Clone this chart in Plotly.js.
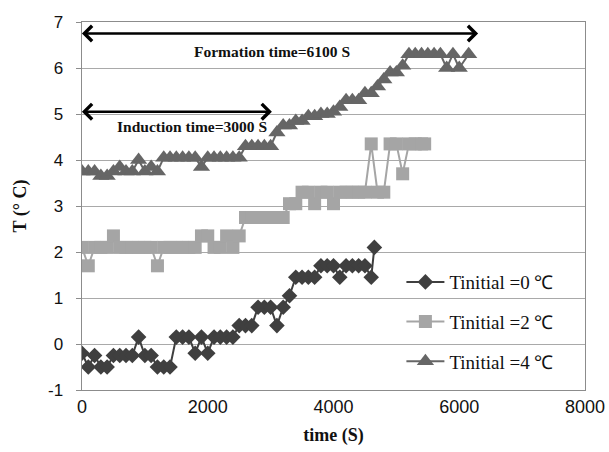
<!DOCTYPE html>
<html>
<head>
<meta charset="utf-8">
<script src="https://cdn.plot.ly/plotly-3.0.1.min.js"></script>
<style>html,body{margin:0;padding:0;background:#fff;}#chart{width:609px;height:452px;}</style>
</head>
<body>
<div id="chart"></div>
<script>
// Tinitial = 0 °C (diamonds)
const t0X = [0,100,200,300,400,500,600,700,800,900,1000,1100,1200,1300,1400,1500,1600,1700,1800,1900,2000,2100,2200,2300,2400,2500,2600,2700,2800,2900,3000,3100,3200,3300,3400,3500,3600,3700,3800,3900,4000,4100,4200,4300,4400,4500,4600,4650];
const t0Y = [-0.2,-0.5,-0.25,-0.5,-0.5,-0.25,-0.25,-0.25,-0.25,0.15,-0.25,-0.25,-0.5,-0.5,-0.5,0.15,0.15,0.15,-0.2,0.15,-0.2,0.15,0.15,0.15,0.15,0.4,0.4,0.4,0.8,0.8,0.8,0.4,0.8,1.05,1.45,1.45,1.45,1.45,1.7,1.7,1.7,1.45,1.7,1.7,1.7,1.7,1.45,2.1];

// Tinitial = 2 °C (squares)
const t2X = [0,100,200,300,400,500,600,700,800,900,1000,1100,1200,1300,1400,1500,1600,1700,1800,1900,2000,2100,2200,2300,2400,2500,2600,2700,2800,2900,3000,3100,3200,3300,3400,3500,3600,3700,3800,3900,4000,4100,4200,4300,4400,4500,4600,4700,4800,4900,5000,5100,5200,5300,5400,5450];
const t2Y = [2.1,1.7,2.1,2.1,2.1,2.35,2.1,2.1,2.1,2.1,2.1,2.1,1.7,2.1,2.1,2.1,2.1,2.1,2.1,2.35,2.35,2.1,2.1,2.35,2.1,2.35,2.75,2.75,2.75,2.75,2.75,2.75,2.75,3.05,3.05,3.3,3.3,3.05,3.3,3.3,3.05,3.3,3.3,3.3,3.3,3.3,4.35,3.3,3.3,4.35,4.35,3.7,4.35,4.35,4.35,4.35];

// Tinitial = 4 °C (triangles)
const t4X = [0,100,200,300,400,500,600,700,800,900,1000,1100,1200,1300,1400,1500,1600,1700,1800,1900,2000,2100,2200,2300,2400,2500,2600,2700,2800,2900,3000,3100,3200,3300,3400,3500,3600,3700,3800,3900,4000,4100,4200,4300,4400,4500,4600,4700,4800,4900,5000,5100,5200,5300,5400,5500,5600,5700,5800,5900,6000,6150];
const t4Y = [3.75,3.75,3.75,3.65,3.65,3.75,3.85,3.75,3.75,4.0,3.75,3.85,3.75,4.05,4.05,4.05,4.05,4.05,4.05,3.85,4.05,4.05,4.05,4.05,4.05,4.05,4.3,4.3,4.3,4.3,4.3,4.6,4.75,4.75,4.85,4.85,4.95,4.95,5.0,5.0,5.05,5.15,5.3,5.3,5.3,5.45,5.45,5.6,5.75,5.9,5.9,6.05,6.3,6.3,6.3,6.3,6.3,6.3,6.0,6.3,6.0,6.3];

const seriesNames = ['Tinitial =0 \u2103','Tinitial =2 \u2103','Tinitial =4 \u2103'];
const xTicks = [0,2000,4000,6000,8000];
const yTicks = [-1,0,1,2,3,4,5,6,7];
const formationLabel = 'Formation time=6100 S';
const inductionLabel = 'Induction time=3000 S';
const formationEnd = 6300, inductionEnd = 3020;

const serif = 'Liberation Serif, Times New Roman, serif';
const sans = 'Liberation Sans, Arial, sans-serif';

const traces = [
  {x:t0X, y:t0Y, name:seriesNames[0], legendgroup:'a', mode:'lines+markers', line:{color:'#3f3f3f', width:2}, marker:{symbol:'diamond', size:12, color:'#3f3f3f'}},
  {x:t2X, y:t2Y, name:seriesNames[1], legendgroup:'b', mode:'lines+markers', line:{color:'#a5a5a5', width:2}, marker:{symbol:'square', size:13, color:'#a5a5a5'}},
  {x:t4X, y:t4Y, name:seriesNames[2], legendgroup:'c', mode:'lines+markers', line:{color:'#666666', width:2}, marker:{symbol:'triangle-up', size:15, color:'#666666'}}
];

const layout = {
  width:609, height:452,
  margin:{l:82, r:24, t:22, b:62},
  paper_bgcolor:'#fff', plot_bgcolor:'#fff',
  showlegend:true,
  legend:{x:0.635, y:0.345, xanchor:'left', yanchor:'top', bgcolor:'rgba(0,0,0,0)', itemwidth:38, font:{family:serif, size:19, color:'#111'}, traceorder:'grouped', tracegroupgap:12},
  xaxis:{range:[0,8000], tickvals:xTicks, ticktext:xTicks.map(String), showgrid:false, zeroline:false,
    showline:true, linecolor:'#8c8c8c', linewidth:1, mirror:true, ticks:'', 
    tickfont:{family:sans, size:18, color:'#111'},
    title:{text:'<b>time (S)</b>', font:{family:serif, size:18, color:'#111'}, standoff:12}},
  yaxis:{range:[-1,7], tickvals:yTicks, ticktext:yTicks.map(v => String(v) + '\u00a0\u00a0'), showgrid:true, gridcolor:'#a9a9a9', gridwidth:1, zeroline:false,
    showline:true, linecolor:'#8c8c8c', linewidth:1, mirror:true, ticks:'outside', ticklen:5, tickcolor:'#8c8c8c',
    tickfont:{family:sans, size:17, color:'#111'},
    title:{text:'<b>T (\u00b0 C)</b>', font:{family:serif, size:18, color:'#111'}, standoff:16}},
  annotations:[
    {x:formationEnd, y:6.75, ax:-25, ay:6.75, axref:'x', ayref:'y', xref:'x', yref:'y', text:'', showarrow:true, arrowhead:4, startarrowhead:4, arrowside:'end+start', arrowsize:1.2, startarrowsize:1.2, arrowwidth:2.5, arrowcolor:'#000'},
    {x:inductionEnd, y:5.05, ax:-25, ay:5.05, axref:'x', ayref:'y', xref:'x', yref:'y', text:'', showarrow:true, arrowhead:4, startarrowhead:4, arrowside:'end+start', arrowsize:1.2, startarrowsize:1.2, arrowwidth:2.5, arrowcolor:'#000'},
    {x:3020, y:6.36, xref:'x', yref:'y', text:'<b>'+formationLabel+'</b>', showarrow:false, font:{family:serif, size:15.5, color:'#111'}},
    {x:1750, y:4.72, xref:'x', yref:'y', text:'<b>'+inductionLabel+'</b>', showarrow:false, font:{family:serif, size:15.5, color:'#111'}}
  ]
};

Plotly.newPlot('chart', traces, layout, {displayModeBar:false, staticPlot:true});
</script>
</body>
</html>
